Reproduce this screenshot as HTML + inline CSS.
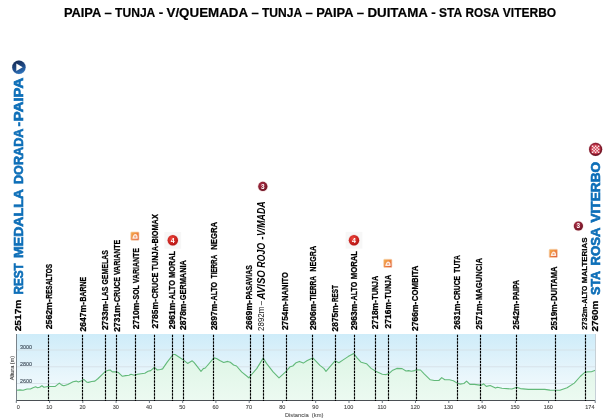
<!DOCTYPE html>
<html><head><meta charset="utf-8"><title>Stage profile</title>
<style>html,body{margin:0;padding:0;background:#fff;}body{width:609px;height:419px;overflow:hidden;}svg{display:block;}text{font-family:"Liberation Sans",sans-serif;}</style></head><body>
<svg style="will-change:transform" width="609" height="419" viewBox="0 0 609 419">
<defs>
<linearGradient id="sky" x1="0" y1="0" x2="0" y2="1"><stop offset="0" stop-color="#ceecf9"/><stop offset="0.5" stop-color="#e4f4fb"/><stop offset="1" stop-color="#f7fcfe"/></linearGradient>
<linearGradient id="land" x1="0" y1="0" x2="0" y2="1"><stop offset="0" stop-color="#ddf5e5"/><stop offset="1" stop-color="#ecfaf1"/></linearGradient>
<radialGradient id="redg" cx="0.4" cy="0.35" r="0.7"><stop offset="0" stop-color="#f0453a"/><stop offset="1" stop-color="#b01010"/></radialGradient>
<radialGradient id="marg" cx="0.4" cy="0.35" r="0.7"><stop offset="0" stop-color="#b03048"/><stop offset="1" stop-color="#6a1020"/></radialGradient>
<linearGradient id="blug" x1="0.2" y1="0" x2="0.6" y2="1"><stop offset="0" stop-color="#14284f"/><stop offset="0.55" stop-color="#1f4a86"/><stop offset="1" stop-color="#2d74bd"/></linearGradient>
<linearGradient id="org" x1="0" y1="0" x2="1" y2="1"><stop offset="0" stop-color="#f4b24e"/><stop offset="0.5" stop-color="#ee8440"/><stop offset="1" stop-color="#d9553a"/></linearGradient>
</defs>
<rect width="609" height="419" fill="#fff"/>
<g>
<text x="63.9" y="16.7" font-size="13.3" font-weight="bold" fill="#000" stroke="#000" stroke-width="0.2" textLength="37.3" lengthAdjust="spacingAndGlyphs">PAIPA</text>
<text x="104.5" y="16.7" font-size="13.3" font-weight="bold" fill="#000" stroke="#000" stroke-width="0.2" textLength="7.3" lengthAdjust="spacingAndGlyphs">–</text>
<text x="115.1" y="16.7" font-size="13.3" font-weight="bold" fill="#000" stroke="#000" stroke-width="0.2" textLength="40.2" lengthAdjust="spacingAndGlyphs">TUNJA</text>
<text x="158.7" y="16.7" font-size="13.3" font-weight="bold" fill="#000" stroke="#000" stroke-width="0.2" textLength="4.5" lengthAdjust="spacingAndGlyphs">-</text>
<text x="166.5" y="16.7" font-size="13.3" font-weight="bold" fill="#000" stroke="#000" stroke-width="0.2" textLength="81.6" lengthAdjust="spacingAndGlyphs">V/QUEMADA</text>
<text x="251.4" y="16.7" font-size="13.3" font-weight="bold" fill="#000" stroke="#000" stroke-width="0.2" textLength="7.3" lengthAdjust="spacingAndGlyphs">–</text>
<text x="262.0" y="16.7" font-size="13.3" font-weight="bold" fill="#000" stroke="#000" stroke-width="0.2" textLength="40.2" lengthAdjust="spacingAndGlyphs">TUNJA</text>
<text x="305.6" y="16.7" font-size="13.3" font-weight="bold" fill="#000" stroke="#000" stroke-width="0.2" textLength="7.3" lengthAdjust="spacingAndGlyphs">–</text>
<text x="316.2" y="16.7" font-size="13.3" font-weight="bold" fill="#000" stroke="#000" stroke-width="0.2" textLength="37.3" lengthAdjust="spacingAndGlyphs">PAIPA</text>
<text x="356.8" y="16.7" font-size="13.3" font-weight="bold" fill="#000" stroke="#000" stroke-width="0.2" textLength="7.3" lengthAdjust="spacingAndGlyphs">–</text>
<text x="367.4" y="16.7" font-size="13.3" font-weight="bold" fill="#000" stroke="#000" stroke-width="0.2" textLength="60.5" lengthAdjust="spacingAndGlyphs">DUITAMA</text>
<text x="431.3" y="16.7" font-size="13.3" font-weight="bold" fill="#000" stroke="#000" stroke-width="0.2" textLength="4.5" lengthAdjust="spacingAndGlyphs">-</text>
<text x="439.1" y="16.7" font-size="13.3" font-weight="bold" fill="#000" stroke="#000" stroke-width="0.2" textLength="23.1" lengthAdjust="spacingAndGlyphs">STA</text>
<text x="465.5" y="16.7" font-size="13.3" font-weight="bold" fill="#000" stroke="#000" stroke-width="0.2" textLength="34.0" lengthAdjust="spacingAndGlyphs">ROSA</text>
<text x="502.8" y="16.7" font-size="13.3" font-weight="bold" fill="#000" stroke="#000" stroke-width="0.2" textLength="53.4" lengthAdjust="spacingAndGlyphs">VITERBO</text>
<rect x="16.5" y="334.0" width="579.0" height="66.5" fill="url(#sky)"/>
<line x1="16.5" x2="595.5" y1="350.0" y2="350.0" stroke="#d6e0e6" stroke-width="0.9"/>
<line x1="16.5" x2="595.5" y1="366.8" y2="366.8" stroke="#d6e0e6" stroke-width="0.9"/>
<line x1="16.5" x2="595.5" y1="383.5" y2="383.5" stroke="#d6e0e6" stroke-width="0.9"/>
<polygon points="16.6,400.5 16.6,390.3 19.9,389.9 23.1,390.3 27.1,389.0 30.4,389.0 33.0,387.7 35.6,386.8 37.6,387.7 39.6,387.3 41.9,385.7 43.9,387.3 48.1,386.5 55.3,386.4 59.3,383.1 61.9,385.1 63.9,385.7 67.8,384.4 73.1,381.8 76.3,381.1 78.3,382.0 81.6,380.7 83.8,379.4 86.8,382.2 88.5,382.4 91.6,381.5 94.9,381.1 98.1,378.5 102.1,374.6 105.4,371.3 108.0,370.4 110.2,370.0 112.3,371.9 116.3,371.9 118.5,372.6 122.4,376.3 125.7,375.6 129.0,375.2 131.0,374.2 134.3,375.2 137.5,374.2 144.8,373.2 148.1,371.3 150.7,370.6 154.4,367.3 157.3,370.0 160.5,369.5 162.6,368.9 167.2,362.1 173.1,354.5 175.1,354.5 179.7,357.5 183.6,360.1 187.6,363.4 192.2,360.8 194.2,362.7 201.0,371.3 203.3,368.6 205.3,368.0 213.9,357.9 216.5,358.5 219.8,360.5 223.7,362.5 227.7,361.4 230.3,362.3 233.6,365.0 236.5,366.0 241.6,371.9 248.8,377.8 250.8,375.5 256.7,368.6 263.2,358.1 266.5,363.4 273.1,371.9 279.0,377.8 285.6,371.9 290.2,366.7 292.8,366.0 296.1,362.7 299.4,361.4 303.3,363.1 307.3,360.5 312.8,357.9 319.9,365.4 323.8,368.4 326.0,371.3 335.0,360.8 338.9,362.7 342.8,360.1 348.1,356.6 353.7,353.5 357.3,358.1 361.2,362.3 366.5,363.7 371.1,368.4 375.7,371.3 382.3,374.2 386.2,374.6 388.9,373.6 392.2,370.6 396.8,368.4 402.1,368.6 406.0,371.0 408.6,370.6 411.3,371.3 414.6,370.6 416.5,369.7 420.5,370.0 424.4,374.2 430.3,379.8 434.3,380.5 438.9,380.5 441.7,377.6 444.8,379.8 449.4,379.8 453.3,380.7 457.2,383.1 459.9,384.1 463.9,383.5 466.6,381.1 469.9,384.4 474.4,384.4 479.7,385.1 481.7,385.1 483.6,383.8 486.3,386.4 490.2,385.5 495.5,388.1 497.4,387.3 502.0,388.3 511.9,389.0 516.7,387.3 520.4,388.6 528.3,389.4 544.8,389.4 550.0,390.1 559.9,390.3 567.1,387.7 574.3,383.1 580.2,376.5 584.2,372.8 586.8,371.9 591.4,371.7 596.0,370.0 596.0,400.5" fill="url(#land)"/>
<polyline points="16.6,390.3 19.9,389.9 23.1,390.3 27.1,389.0 30.4,389.0 33.0,387.7 35.6,386.8 37.6,387.7 39.6,387.3 41.9,385.7 43.9,387.3 48.1,386.5 55.3,386.4 59.3,383.1 61.9,385.1 63.9,385.7 67.8,384.4 73.1,381.8 76.3,381.1 78.3,382.0 81.6,380.7 83.8,379.4 86.8,382.2 88.5,382.4 91.6,381.5 94.9,381.1 98.1,378.5 102.1,374.6 105.4,371.3 108.0,370.4 110.2,370.0 112.3,371.9 116.3,371.9 118.5,372.6 122.4,376.3 125.7,375.6 129.0,375.2 131.0,374.2 134.3,375.2 137.5,374.2 144.8,373.2 148.1,371.3 150.7,370.6 154.4,367.3 157.3,370.0 160.5,369.5 162.6,368.9 167.2,362.1 173.1,354.5 175.1,354.5 179.7,357.5 183.6,360.1 187.6,363.4 192.2,360.8 194.2,362.7 201.0,371.3 203.3,368.6 205.3,368.0 213.9,357.9 216.5,358.5 219.8,360.5 223.7,362.5 227.7,361.4 230.3,362.3 233.6,365.0 236.5,366.0 241.6,371.9 248.8,377.8 250.8,375.5 256.7,368.6 263.2,358.1 266.5,363.4 273.1,371.9 279.0,377.8 285.6,371.9 290.2,366.7 292.8,366.0 296.1,362.7 299.4,361.4 303.3,363.1 307.3,360.5 312.8,357.9 319.9,365.4 323.8,368.4 326.0,371.3 335.0,360.8 338.9,362.7 342.8,360.1 348.1,356.6 353.7,353.5 357.3,358.1 361.2,362.3 366.5,363.7 371.1,368.4 375.7,371.3 382.3,374.2 386.2,374.6 388.9,373.6 392.2,370.6 396.8,368.4 402.1,368.6 406.0,371.0 408.6,370.6 411.3,371.3 414.6,370.6 416.5,369.7 420.5,370.0 424.4,374.2 430.3,379.8 434.3,380.5 438.9,380.5 441.7,377.6 444.8,379.8 449.4,379.8 453.3,380.7 457.2,383.1 459.9,384.1 463.9,383.5 466.6,381.1 469.9,384.4 474.4,384.4 479.7,385.1 481.7,385.1 483.6,383.8 486.3,386.4 490.2,385.5 495.5,388.1 497.4,387.3 502.0,388.3 511.9,389.0 516.7,387.3 520.4,388.6 528.3,389.4 544.8,389.4 550.0,390.1 559.9,390.3 567.1,387.7 574.3,383.1 580.2,376.5 584.2,372.8 586.8,371.9 591.4,371.7 596.0,370.0" fill="none" stroke="#62b979" stroke-width="1.1" stroke-linejoin="round"/>
<line x1="16.5" x2="16.5" y1="334.0" y2="401.0" stroke="#79838a" stroke-width="1"/>
<line x1="16.5" x2="595.5" y1="400.5" y2="400.5" stroke="#4a4f54" stroke-width="1"/>
<line x1="595.5" x2="595.5" y1="334.0" y2="401.0" stroke="#c6d0d6" stroke-width="1"/>
<line x1="16.3" x2="16.3" y1="400.5" y2="403.0" stroke="#6d7880" stroke-width="1"/>
<text x="18.3" y="408.7" font-size="5.5" fill="#4a4a4a" stroke="#4a4a4a" stroke-width="0.12" text-anchor="middle">0</text>
<line x1="49.6" x2="49.6" y1="400.5" y2="403.0" stroke="#6d7880" stroke-width="1"/>
<text x="49.3" y="408.7" font-size="5.5" fill="#4a4a4a" stroke="#4a4a4a" stroke-width="0.12" text-anchor="middle">10</text>
<line x1="82.8" x2="82.8" y1="400.5" y2="403.0" stroke="#6d7880" stroke-width="1"/>
<text x="82.5" y="408.7" font-size="5.5" fill="#4a4a4a" stroke="#4a4a4a" stroke-width="0.12" text-anchor="middle">20</text>
<line x1="116.1" x2="116.1" y1="400.5" y2="403.0" stroke="#6d7880" stroke-width="1"/>
<text x="115.8" y="408.7" font-size="5.5" fill="#4a4a4a" stroke="#4a4a4a" stroke-width="0.12" text-anchor="middle">30</text>
<line x1="149.4" x2="149.4" y1="400.5" y2="403.0" stroke="#6d7880" stroke-width="1"/>
<text x="149.1" y="408.7" font-size="5.5" fill="#4a4a4a" stroke="#4a4a4a" stroke-width="0.12" text-anchor="middle">40</text>
<line x1="182.7" x2="182.7" y1="400.5" y2="403.0" stroke="#6d7880" stroke-width="1"/>
<text x="182.3" y="408.7" font-size="5.5" fill="#4a4a4a" stroke="#4a4a4a" stroke-width="0.12" text-anchor="middle">50</text>
<line x1="215.9" x2="215.9" y1="400.5" y2="403.0" stroke="#6d7880" stroke-width="1"/>
<text x="215.6" y="408.7" font-size="5.5" fill="#4a4a4a" stroke="#4a4a4a" stroke-width="0.12" text-anchor="middle">60</text>
<line x1="249.2" x2="249.2" y1="400.5" y2="403.0" stroke="#6d7880" stroke-width="1"/>
<text x="248.9" y="408.7" font-size="5.5" fill="#4a4a4a" stroke="#4a4a4a" stroke-width="0.12" text-anchor="middle">70</text>
<line x1="282.5" x2="282.5" y1="400.5" y2="403.0" stroke="#6d7880" stroke-width="1"/>
<text x="282.2" y="408.7" font-size="5.5" fill="#4a4a4a" stroke="#4a4a4a" stroke-width="0.12" text-anchor="middle">80</text>
<line x1="315.7" x2="315.7" y1="400.5" y2="403.0" stroke="#6d7880" stroke-width="1"/>
<text x="315.4" y="408.7" font-size="5.5" fill="#4a4a4a" stroke="#4a4a4a" stroke-width="0.12" text-anchor="middle">90</text>
<line x1="349.0" x2="349.0" y1="400.5" y2="403.0" stroke="#6d7880" stroke-width="1"/>
<text x="348.7" y="408.7" font-size="5.5" fill="#4a4a4a" stroke="#4a4a4a" stroke-width="0.12" text-anchor="middle">100</text>
<line x1="382.3" x2="382.3" y1="400.5" y2="403.0" stroke="#6d7880" stroke-width="1"/>
<text x="382.0" y="408.7" font-size="5.5" fill="#4a4a4a" stroke="#4a4a4a" stroke-width="0.12" text-anchor="middle">110</text>
<line x1="415.5" x2="415.5" y1="400.5" y2="403.0" stroke="#6d7880" stroke-width="1"/>
<text x="415.2" y="408.7" font-size="5.5" fill="#4a4a4a" stroke="#4a4a4a" stroke-width="0.12" text-anchor="middle">120</text>
<line x1="448.8" x2="448.8" y1="400.5" y2="403.0" stroke="#6d7880" stroke-width="1"/>
<text x="448.5" y="408.7" font-size="5.5" fill="#4a4a4a" stroke="#4a4a4a" stroke-width="0.12" text-anchor="middle">130</text>
<line x1="482.1" x2="482.1" y1="400.5" y2="403.0" stroke="#6d7880" stroke-width="1"/>
<text x="481.8" y="408.7" font-size="5.5" fill="#4a4a4a" stroke="#4a4a4a" stroke-width="0.12" text-anchor="middle">140</text>
<line x1="515.4" x2="515.4" y1="400.5" y2="403.0" stroke="#6d7880" stroke-width="1"/>
<text x="515.1" y="408.7" font-size="5.5" fill="#4a4a4a" stroke="#4a4a4a" stroke-width="0.12" text-anchor="middle">150</text>
<line x1="548.6" x2="548.6" y1="400.5" y2="403.0" stroke="#6d7880" stroke-width="1"/>
<text x="548.3" y="408.7" font-size="5.5" fill="#4a4a4a" stroke="#4a4a4a" stroke-width="0.12" text-anchor="middle">160</text>
<line x1="595.2" x2="595.2" y1="400.5" y2="403.0" stroke="#6d7880" stroke-width="1"/>
<text x="589.9" y="408.7" font-size="5.5" fill="#4a4a4a" stroke="#4a4a4a" stroke-width="0.12" text-anchor="middle">174</text>
<text x="20" y="349.2" font-size="6" fill="#3b4856" stroke="#3b4856" stroke-width="0.12" textLength="12" lengthAdjust="spacingAndGlyphs">3000</text>
<text x="20" y="365.9" font-size="6" fill="#3b4856" stroke="#3b4856" stroke-width="0.12" textLength="12" lengthAdjust="spacingAndGlyphs">2800</text>
<text x="20" y="382.7" font-size="6" fill="#3b4856" stroke="#3b4856" stroke-width="0.12" textLength="12" lengthAdjust="spacingAndGlyphs">2600</text>
<text transform="translate(13.7,380.3) rotate(-90)" font-size="5.6" fill="#444" stroke="#444" stroke-width="0.1" textLength="24.5" lengthAdjust="spacingAndGlyphs">Altura (m)</text>
<text x="284.9" y="417.1" font-size="5.7" fill="#555" stroke="#555" stroke-width="0.1" textLength="38.5" lengthAdjust="spacingAndGlyphs">Distancia  (km)</text>
<line x1="48.5" x2="48.5" y1="334.7" y2="401.0" stroke="#000" stroke-width="1.15" stroke-dasharray="2.5 0.75"/>
<line x1="82.5" x2="82.5" y1="334.7" y2="401.0" stroke="#000" stroke-width="1.15" stroke-dasharray="2.5 0.75"/>
<line x1="105.5" x2="105.5" y1="334.7" y2="401.0" stroke="#000" stroke-width="1.15" stroke-dasharray="2.5 0.75"/>
<line x1="116.5" x2="116.5" y1="334.7" y2="401.0" stroke="#000" stroke-width="1.15" stroke-dasharray="2.5 0.75"/>
<line x1="135.5" x2="135.5" y1="334.7" y2="401.0" stroke="#000" stroke-width="1.15" stroke-dasharray="2.5 0.75"/>
<line x1="154.5" x2="154.5" y1="334.7" y2="401.0" stroke="#000" stroke-width="1.15" stroke-dasharray="2.5 0.75"/>
<line x1="172.5" x2="172.5" y1="334.7" y2="401.0" stroke="#000" stroke-width="1.15" stroke-dasharray="2.5 0.75"/>
<line x1="183.5" x2="183.5" y1="334.7" y2="401.0" stroke="#000" stroke-width="1.15" stroke-dasharray="2.5 0.75"/>
<line x1="213.5" x2="213.5" y1="334.7" y2="401.0" stroke="#000" stroke-width="1.15" stroke-dasharray="2.5 0.75"/>
<line x1="250.5" x2="250.5" y1="334.7" y2="401.0" stroke="#000" stroke-width="1.15" stroke-dasharray="2.5 0.75"/>
<line x1="263.5" x2="263.5" y1="334.7" y2="401.0" stroke="#000" stroke-width="1.15" stroke-dasharray="2.5 0.75"/>
<line x1="286.5" x2="286.5" y1="334.7" y2="401.0" stroke="#000" stroke-width="1.15" stroke-dasharray="2.5 0.75"/>
<line x1="312.5" x2="312.5" y1="334.7" y2="401.0" stroke="#000" stroke-width="1.15" stroke-dasharray="2.5 0.75"/>
<line x1="335.5" x2="335.5" y1="334.7" y2="401.0" stroke="#000" stroke-width="1.15" stroke-dasharray="2.5 0.75"/>
<line x1="354.5" x2="354.5" y1="334.7" y2="401.0" stroke="#000" stroke-width="1.15" stroke-dasharray="2.5 0.75"/>
<line x1="375.5" x2="375.5" y1="334.7" y2="401.0" stroke="#000" stroke-width="1.15" stroke-dasharray="2.5 0.75"/>
<line x1="388.5" x2="388.5" y1="334.7" y2="401.0" stroke="#000" stroke-width="1.15" stroke-dasharray="2.5 0.75"/>
<line x1="416.5" x2="416.5" y1="334.7" y2="401.0" stroke="#000" stroke-width="1.15" stroke-dasharray="2.5 0.75"/>
<line x1="457.5" x2="457.5" y1="334.7" y2="401.0" stroke="#000" stroke-width="1.15" stroke-dasharray="2.5 0.75"/>
<line x1="480.5" x2="480.5" y1="334.7" y2="401.0" stroke="#000" stroke-width="1.15" stroke-dasharray="2.5 0.75"/>
<line x1="516.5" x2="516.5" y1="334.7" y2="401.0" stroke="#000" stroke-width="1.15" stroke-dasharray="2.5 0.75"/>
<line x1="555.5" x2="555.5" y1="334.7" y2="401.0" stroke="#000" stroke-width="1.15" stroke-dasharray="2.5 0.75"/>
<line x1="585.5" x2="585.5" y1="334.7" y2="401.0" stroke="#000" stroke-width="1.15" stroke-dasharray="2.5 0.75"/>
<text transform="translate(52.2,329.3) rotate(-90)" font-size="9" font-weight="bold" font-style="normal" fill="#000" stroke="#000" stroke-width="0.25" textLength="30.1" lengthAdjust="spacingAndGlyphs">2562m-</text>
<text transform="translate(52.2,298.8) rotate(-90)" font-size="9" font-weight="bold" font-style="normal" fill="#000" stroke="#000" stroke-width="0.25" textLength="35.0" lengthAdjust="spacingAndGlyphs">RESALTOS</text>
<text transform="translate(85.6,331.4) rotate(-90)" font-size="9" font-weight="bold" font-style="normal" fill="#000" stroke="#000" stroke-width="0.25" textLength="29.4" lengthAdjust="spacingAndGlyphs">2647m-</text>
<text transform="translate(85.6,301.6) rotate(-90)" font-size="9" font-weight="bold" font-style="normal" fill="#000" stroke="#000" stroke-width="0.25" textLength="24.6" lengthAdjust="spacingAndGlyphs">BARNE</text>
<text transform="translate(108.1,330.1) rotate(-90)" font-size="9" font-weight="bold" font-style="normal" fill="#000" stroke="#000" stroke-width="0.25" textLength="29.2" lengthAdjust="spacingAndGlyphs">2733m-</text>
<text transform="translate(108.1,300.5) rotate(-90)" font-size="9" font-weight="bold" font-style="normal" fill="#000" stroke="#000" stroke-width="0.25" textLength="50.4" lengthAdjust="spacingAndGlyphs">LAS GEMELAS</text>
<text transform="translate(120.3,331.8) rotate(-90)" font-size="9" font-weight="bold" font-style="normal" fill="#000" stroke="#000" stroke-width="0.25" textLength="29.4" lengthAdjust="spacingAndGlyphs">2731m-</text>
<text transform="translate(120.3,302.0) rotate(-90)" font-size="9" font-weight="bold" font-style="normal" fill="#000" stroke="#000" stroke-width="0.25" textLength="62.3" lengthAdjust="spacingAndGlyphs">CRUCE VARIANTE</text>
<text transform="translate(139.1,329.3) rotate(-90)" font-size="9" font-weight="bold" font-style="normal" fill="#000" stroke="#000" stroke-width="0.25" textLength="29.4" lengthAdjust="spacingAndGlyphs">2710m-</text>
<text transform="translate(139.1,299.5) rotate(-90)" font-size="9" font-weight="bold" font-style="normal" fill="#000" stroke="#000" stroke-width="0.25" textLength="51.4" lengthAdjust="spacingAndGlyphs">SOL VARIANTE</text>
<text transform="translate(158.3,328.4) rotate(-90)" font-size="9" font-weight="bold" font-style="normal" fill="#000" stroke="#000" stroke-width="0.25" textLength="29.4" lengthAdjust="spacingAndGlyphs">2785m-</text>
<text transform="translate(158.3,298.6) rotate(-90)" font-size="9" font-weight="bold" font-style="normal" fill="#000" stroke="#000" stroke-width="0.25" textLength="84.4" lengthAdjust="spacingAndGlyphs">CRUCE TUNJA-BIOMAX</text>
<text transform="translate(175.2,329.3) rotate(-90)" font-size="9" font-weight="bold" font-style="normal" fill="#000" stroke="#000" stroke-width="0.25" textLength="29.4" lengthAdjust="spacingAndGlyphs">2961m-</text>
<text transform="translate(175.2,299.5) rotate(-90)" font-size="9" font-weight="bold" font-style="normal" fill="#000" stroke="#000" stroke-width="0.25" textLength="48.6" lengthAdjust="spacingAndGlyphs">ALTO MORAL</text>
<text transform="translate(186.0,330.1) rotate(-90)" font-size="9" font-weight="bold" font-style="normal" fill="#000" stroke="#000" stroke-width="0.25" textLength="29.4" lengthAdjust="spacingAndGlyphs">2878m-</text>
<text transform="translate(186.0,300.3) rotate(-90)" font-size="9" font-weight="bold" font-style="normal" fill="#000" stroke="#000" stroke-width="0.25" textLength="40.2" lengthAdjust="spacingAndGlyphs">GERMANIA</text>
<text transform="translate(216.6,330.1) rotate(-90)" font-size="9" font-weight="bold" font-style="normal" fill="#000" stroke="#000" stroke-width="0.25" textLength="29.2" lengthAdjust="spacingAndGlyphs">2897m-</text>
<text transform="translate(216.6,300.4) rotate(-90)" font-size="9" font-weight="bold" font-style="normal" fill="#000" stroke="#000" stroke-width="0.25" textLength="18.5" lengthAdjust="spacingAndGlyphs">ALTO</text>
<text transform="translate(216.6,278.2) rotate(-90)" font-size="9" font-weight="bold" font-style="normal" fill="#000" stroke="#000" stroke-width="0.25" textLength="23.4" lengthAdjust="spacingAndGlyphs">TIERRA</text>
<text transform="translate(216.6,249.8) rotate(-90)" font-size="9" font-weight="bold" font-style="normal" fill="#000" stroke="#000" stroke-width="0.25" textLength="27.9" lengthAdjust="spacingAndGlyphs">NEGRA</text>
<text transform="translate(252.3,329.8) rotate(-90)" font-size="9" font-weight="bold" font-style="normal" fill="#000" stroke="#000" stroke-width="0.25" textLength="29.8" lengthAdjust="spacingAndGlyphs">2669m-</text>
<text transform="translate(252.3,299.6) rotate(-90)" font-size="9" font-weight="bold" font-style="normal" fill="#000" stroke="#000" stroke-width="0.25" textLength="34.6" lengthAdjust="spacingAndGlyphs">PASAVIAS</text>
<text transform="translate(288.4,330.1) rotate(-90)" font-size="9" font-weight="bold" font-style="normal" fill="#000" stroke="#000" stroke-width="0.25" textLength="28.7" lengthAdjust="spacingAndGlyphs">2754m-</text>
<text transform="translate(288.4,300.9) rotate(-90)" font-size="9" font-weight="bold" font-style="normal" fill="#000" stroke="#000" stroke-width="0.25" textLength="28.8" lengthAdjust="spacingAndGlyphs">NANITO</text>
<text transform="translate(315.5,330.1) rotate(-90)" font-size="9" font-weight="bold" font-style="normal" fill="#000" stroke="#000" stroke-width="0.25" textLength="29.2" lengthAdjust="spacingAndGlyphs">2906m-</text>
<text transform="translate(315.5,300.4) rotate(-90)" font-size="9" font-weight="bold" font-style="normal" fill="#000" stroke="#000" stroke-width="0.25" textLength="24.5" lengthAdjust="spacingAndGlyphs">TIERRA</text>
<text transform="translate(315.5,271.7) rotate(-90)" font-size="9" font-weight="bold" font-style="normal" fill="#000" stroke="#000" stroke-width="0.25" textLength="25.8" lengthAdjust="spacingAndGlyphs">NEGRA</text>
<text transform="translate(338.2,331.4) rotate(-90)" font-size="9" font-weight="bold" font-style="normal" fill="#000" stroke="#000" stroke-width="0.25" textLength="28.8" lengthAdjust="spacingAndGlyphs">2875m-</text>
<text transform="translate(338.2,302.0) rotate(-90)" font-size="9" font-weight="bold" font-style="normal" fill="#000" stroke="#000" stroke-width="0.25" textLength="16.9" lengthAdjust="spacingAndGlyphs">REST</text>
<text transform="translate(357.2,330.1) rotate(-90)" font-size="9" font-weight="bold" font-style="normal" fill="#000" stroke="#000" stroke-width="0.25" textLength="29.2" lengthAdjust="spacingAndGlyphs">2963m-</text>
<text transform="translate(357.2,300.4) rotate(-90)" font-size="9" font-weight="bold" font-style="normal" fill="#000" stroke="#000" stroke-width="0.25" textLength="18.7" lengthAdjust="spacingAndGlyphs">ALTO</text>
<text transform="translate(357.2,279.3) rotate(-90)" font-size="9" font-weight="bold" font-style="normal" fill="#000" stroke="#000" stroke-width="0.25" textLength="28.4" lengthAdjust="spacingAndGlyphs">MORAL</text>
<text transform="translate(378.1,329.3) rotate(-90)" font-size="9" font-weight="bold" font-style="normal" fill="#000" stroke="#000" stroke-width="0.25" textLength="29.3" lengthAdjust="spacingAndGlyphs">2718m-</text>
<text transform="translate(378.1,299.7) rotate(-90)" font-size="9" font-weight="bold" font-style="normal" fill="#000" stroke="#000" stroke-width="0.25" textLength="23.8" lengthAdjust="spacingAndGlyphs">TUNJA</text>
<text transform="translate(391.3,328.4) rotate(-90)" font-size="9" font-weight="bold" font-style="normal" fill="#000" stroke="#000" stroke-width="0.25" textLength="29.2" lengthAdjust="spacingAndGlyphs">2716m-</text>
<text transform="translate(391.3,298.7) rotate(-90)" font-size="9" font-weight="bold" font-style="normal" fill="#000" stroke="#000" stroke-width="0.25" textLength="24.0" lengthAdjust="spacingAndGlyphs">TUNJA</text>
<text transform="translate(418.2,330.9) rotate(-90)" font-size="9" font-weight="bold" font-style="normal" fill="#000" stroke="#000" stroke-width="0.25" textLength="29.2" lengthAdjust="spacingAndGlyphs">2766m-</text>
<text transform="translate(418.2,301.2) rotate(-90)" font-size="9" font-weight="bold" font-style="normal" fill="#000" stroke="#000" stroke-width="0.25" textLength="35.6" lengthAdjust="spacingAndGlyphs">COMBITA</text>
<text transform="translate(459.9,329.4) rotate(-90)" font-size="9" font-weight="bold" font-style="normal" fill="#000" stroke="#000" stroke-width="0.25" textLength="28.7" lengthAdjust="spacingAndGlyphs">2631m-</text>
<text transform="translate(459.9,300.0) rotate(-90)" font-size="9" font-weight="bold" font-style="normal" fill="#000" stroke="#000" stroke-width="0.25" textLength="24.1" lengthAdjust="spacingAndGlyphs">CRUCE</text>
<text transform="translate(459.9,272.7) rotate(-90)" font-size="9" font-weight="bold" font-style="normal" fill="#000" stroke="#000" stroke-width="0.25" textLength="17.6" lengthAdjust="spacingAndGlyphs">TUTA</text>
<text transform="translate(482.0,329.4) rotate(-90)" font-size="9" font-weight="bold" font-style="normal" fill="#000" stroke="#000" stroke-width="0.25" textLength="28.7" lengthAdjust="spacingAndGlyphs">2571m-</text>
<text transform="translate(482.0,300.0) rotate(-90)" font-size="9" font-weight="bold" font-style="normal" fill="#000" stroke="#000" stroke-width="0.25" textLength="41.9" lengthAdjust="spacingAndGlyphs">MAGUNCIA</text>
<text transform="translate(519.4,329.4) rotate(-90)" font-size="9" font-weight="bold" font-style="normal" fill="#000" stroke="#000" stroke-width="0.25" textLength="28.7" lengthAdjust="spacingAndGlyphs">2542m-</text>
<text transform="translate(519.4,300.0) rotate(-90)" font-size="9" font-weight="bold" font-style="normal" fill="#000" stroke="#000" stroke-width="0.25" textLength="20.0" lengthAdjust="spacingAndGlyphs">PAIPA</text>
<text transform="translate(557.1,330.3) rotate(-90)" font-size="9" font-weight="bold" font-style="normal" fill="#000" stroke="#000" stroke-width="0.25" textLength="28.8" lengthAdjust="spacingAndGlyphs">2519m-</text>
<text transform="translate(557.1,301.0) rotate(-90)" font-size="9" font-weight="bold" font-style="normal" fill="#000" stroke="#000" stroke-width="0.25" textLength="34.6" lengthAdjust="spacingAndGlyphs">DUITAMA</text>
<text transform="translate(587.2,329.8) rotate(-90)" font-size="8" font-weight="bold" font-style="normal" fill="#000" stroke="#000" stroke-width="0.25" textLength="25.8" lengthAdjust="spacingAndGlyphs">2732m-</text>
<text transform="translate(587.2,303.5) rotate(-90)" font-size="8" font-weight="bold" font-style="normal" fill="#000" stroke="#000" stroke-width="0.25" textLength="17.8" lengthAdjust="spacingAndGlyphs">ALTO</text>
<text transform="translate(587.2,283.2) rotate(-90)" font-size="8" font-weight="bold" font-style="normal" fill="#000" stroke="#000" stroke-width="0.25" textLength="45.7" lengthAdjust="spacingAndGlyphs">MALTERIAS</text>
<text transform="translate(264.2,330.9) rotate(-90)" font-size="8.8" font-weight="normal" font-style="normal" fill="#111" textLength="24.2" lengthAdjust="spacingAndGlyphs">2892m</text>
<text transform="translate(264.2,305.2) rotate(-90)" font-size="8.8" font-weight="normal" font-style="normal" fill="#111" textLength="4.3" lengthAdjust="spacingAndGlyphs">–</text>
<text transform="translate(264.8,299.5) rotate(-90)" font-size="10" font-weight="bold" font-style="italic" fill="#000" textLength="29.4" lengthAdjust="spacingAndGlyphs">AVISO</text>
<text transform="translate(264.8,267.8) rotate(-90)" font-size="10" font-weight="bold" font-style="italic" fill="#000" textLength="25.0" lengthAdjust="spacingAndGlyphs">ROJO</text>
<text transform="translate(264.8,239.7) rotate(-90)" font-size="10" font-weight="bold" font-style="italic" fill="#000" textLength="3.2" lengthAdjust="spacingAndGlyphs">-</text>
<text transform="translate(264.8,236.0) rotate(-90)" font-size="10" font-weight="bold" font-style="italic" fill="#000" textLength="34.6" lengthAdjust="spacingAndGlyphs">V/MADA</text>
<text transform="translate(21.1,331.3) rotate(-90)" font-size="9.8" font-weight="bold" font-style="normal" fill="#000" stroke="#000" stroke-width="0.25" textLength="31.7" lengthAdjust="spacingAndGlyphs">2517m</text>
<text transform="translate(23.0,294.5) rotate(-90)" font-size="12" font-weight="bold" font-style="normal" fill="#0e6fb8" stroke="#0e6fb8" stroke-width="0.6" textLength="31.3" lengthAdjust="spacingAndGlyphs">REST</text>
<text transform="translate(23.0,258.0) rotate(-90)" font-size="12" font-weight="bold" font-style="normal" fill="#0e6fb8" stroke="#0e6fb8" stroke-width="0.6" textLength="69.0" lengthAdjust="spacingAndGlyphs">MEDALLA</text>
<text transform="translate(23.0,184.0) rotate(-90)" font-size="12" font-weight="bold" font-style="normal" fill="#0e6fb8" stroke="#0e6fb8" stroke-width="0.6" textLength="55.4" lengthAdjust="spacingAndGlyphs">DORADA</text>
<text transform="translate(23.0,126.6) rotate(-90)" font-size="12" font-weight="bold" font-style="normal" fill="#0e6fb8" stroke="#0e6fb8" stroke-width="0.6" textLength="4.4" lengthAdjust="spacingAndGlyphs">-</text>
<text transform="translate(23.0,121.2) rotate(-90)" font-size="12" font-weight="bold" font-style="normal" fill="#0e6fb8" stroke="#0e6fb8" stroke-width="0.6" textLength="43.4" lengthAdjust="spacingAndGlyphs">PAIPA</text>
<text transform="translate(598.1,331.6) rotate(-90)" font-size="9.8" font-weight="bold" font-style="normal" fill="#000" stroke="#000" stroke-width="0.25" textLength="31.0" lengthAdjust="spacingAndGlyphs">2760m</text>
<text transform="translate(600.1,294.9) rotate(-90)" font-size="12" font-weight="bold" font-style="normal" fill="#0e6fb8" stroke="#0e6fb8" stroke-width="0.6" textLength="24.0" lengthAdjust="spacingAndGlyphs">STA</text>
<text transform="translate(600.1,265.6) rotate(-90)" font-size="12" font-weight="bold" font-style="normal" fill="#0e6fb8" stroke="#0e6fb8" stroke-width="0.6" textLength="38.0" lengthAdjust="spacingAndGlyphs">ROSA</text>
<text transform="translate(600.1,222.6) rotate(-90)" font-size="12" font-weight="bold" font-style="normal" fill="#0e6fb8" stroke="#0e6fb8" stroke-width="0.6" textLength="60.8" lengthAdjust="spacingAndGlyphs">VITERBO</text>
<rect x="164.4" y="231.9" width="16.8" height="16.8" fill="#f7f7f7"/>
<circle cx="172.8" cy="240.3" r="5.9" fill="#f3dede"/>
<circle cx="172.8" cy="240.3" r="5.2" fill="url(#redg)"/>
<text x="172.8" y="242.8" font-size="7" font-weight="bold" fill="#fff" text-anchor="middle">4</text>
<rect x="345.6" y="231.8" width="16.8" height="16.8" fill="#f7f7f7"/>
<circle cx="354.0" cy="240.2" r="5.9" fill="#f3dede"/>
<circle cx="354.0" cy="240.2" r="5.2" fill="url(#redg)"/>
<text x="354.0" y="242.7" font-size="7" font-weight="bold" fill="#fff" text-anchor="middle">4</text>
<circle cx="262.8" cy="186.4" r="5.3" fill="#f3dede"/>
<circle cx="262.8" cy="186.4" r="4.6" fill="url(#marg)"/>
<text x="262.8" y="188.7" font-size="6.4" font-weight="bold" fill="#fff" text-anchor="middle">3</text>
<circle cx="578.4" cy="226.0" r="5.3" fill="#f3dede"/>
<circle cx="578.4" cy="226.0" r="4.6" fill="url(#marg)"/>
<text x="578.4" y="228.3" font-size="6.4" font-weight="bold" fill="#fff" text-anchor="middle">3</text>
<rect x="130.8" y="232.0" width="8.2" height="8.2" rx="0.8" fill="url(#org)" stroke="#f6d2b0" stroke-width="0.7"/>
<path d="M132.3,238.7 c0.3,-2.6 1.6,-4.6 3.2,-4.6 c1.8,0 2.4,2.4 2.2,4.6 z" fill="#fff" opacity="0.85"/>
<circle cx="135.2" cy="236.7" r="1.1" fill="#f0a070" opacity="0.9"/>
<rect x="383.7" y="259.3" width="8.2" height="8.2" rx="0.8" fill="url(#org)" stroke="#f6d2b0" stroke-width="0.7"/>
<path d="M385.2,266.0 c0.3,-2.6 1.6,-4.6 3.2,-4.6 c1.8,0 2.4,2.4 2.2,4.6 z" fill="#fff" opacity="0.85"/>
<circle cx="388.1" cy="264.0" r="1.1" fill="#f0a070" opacity="0.9"/>
<rect x="549.2" y="249.3" width="8.2" height="8.2" rx="0.8" fill="url(#org)" stroke="#f6d2b0" stroke-width="0.7"/>
<path d="M550.7,256.0 c0.3,-2.6 1.6,-4.6 3.2,-4.6 c1.8,0 2.4,2.4 2.2,4.6 z" fill="#fff" opacity="0.85"/>
<circle cx="553.6" cy="254.0" r="1.1" fill="#f0a070" opacity="0.9"/>
<circle cx="18.9" cy="67.2" r="7.0" fill="#c9d6e8"/>
<circle cx="18.9" cy="67.2" r="6.7" fill="url(#blug)"/>
<path d="M16.3,63.5 L22.7,67.2 L16.3,70.9 z" fill="#fff"/>
<circle cx="595.6" cy="149.3" r="7.0" fill="#ead6d8"/>
<circle cx="595.6" cy="149.3" r="6.6" fill="url(#marg)"/>
<circle cx="595.6" cy="149.3" r="5.0" fill="#c9384a"/>
<g fill="#fde0e3">
<rect x="591.80" y="145.50" width="1.6" height="1.6"/>
<rect x="591.80" y="148.50" width="1.6" height="1.6"/>
<rect x="591.80" y="151.50" width="1.6" height="1.6"/>
<rect x="593.30" y="147.00" width="1.6" height="1.6"/>
<rect x="593.30" y="150.00" width="1.6" height="1.6"/>
<rect x="594.80" y="145.50" width="1.6" height="1.6"/>
<rect x="594.80" y="148.50" width="1.6" height="1.6"/>
<rect x="594.80" y="151.50" width="1.6" height="1.6"/>
<rect x="596.30" y="147.00" width="1.6" height="1.6"/>
<rect x="596.30" y="150.00" width="1.6" height="1.6"/>
<rect x="597.80" y="145.50" width="1.6" height="1.6"/>
<rect x="597.80" y="148.50" width="1.6" height="1.6"/>
<rect x="597.80" y="151.50" width="1.6" height="1.6"/>
</g>
</g>
</svg></body></html>
